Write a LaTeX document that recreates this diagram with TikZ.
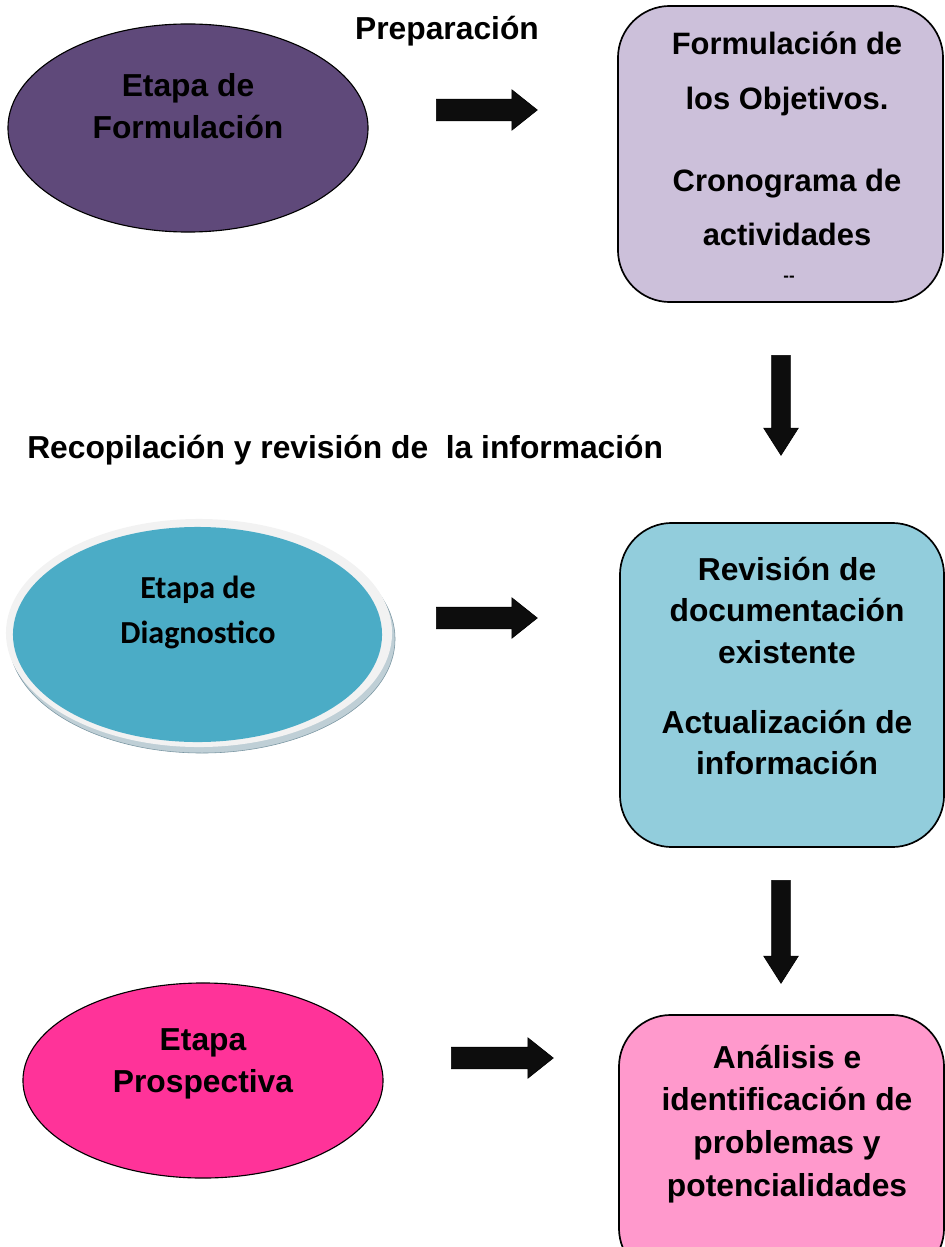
\documentclass[tikz,border=0pt]{standalone}
\usepackage{fontspec}
\setmainfont{Liberation Sans}
\newfontfamily\carlito{Carlito}
\usetikzlibrary{shapes.geometric,shapes.arrows}

\definecolor{formpurple}{HTML}{5F497A}
\definecolor{formlila}{HTML}{CCC0DA}
\definecolor{diagteal}{HTML}{4BACC6}
\definecolor{diagring}{HTML}{F2F2F2}
\definecolor{diagshadow}{HTML}{BFCFD6}
\definecolor{diagedge}{HTML}{7A96A2}
\definecolor{diagceleste}{HTML}{92CDDC}
\definecolor{prosfucsia}{HTML}{FF3399}
\definecolor{prosrosa}{HTML}{FF99CC}
\definecolor{flechanegra}{HTML}{0D0D0D}

\begin{document}
\begin{tikzpicture}[x=0.025cm,y=-0.025cm]
    \tikzstyle{etapa}=[ellipse, draw=black, line width=0.8pt, inner sep=0pt]
    \tikzstyle{caja}=[rectangle, rounded corners=1.3cm, draw=black, line width=1.2pt, inner sep=0pt]
    \tikzstyle{flecha}=[single arrow, anchor=tail, fill=flechanegra, draw=black, line width=0.4pt, inner xsep=0pt]
    \tikzstyle{flechah}=[flecha, inner ysep=0.2625cm, minimum width=1cm,
                         single arrow head extend=0.2375cm, single arrow tip angle=77]
    \tikzstyle{flechav}=[flecha, rotate=-90, inner ysep=0.225cm, minimum width=0.85cm,
                         single arrow head extend=0.2cm, single arrow tip angle=65]
    \tikzstyle{texto}=[align=center, inner sep=0pt, font=\bfseries\fontsize{22.6}{30}\selectfont]
    \useasboundingbox (0,0) rectangle (945,1247);
    \clip (0,0) rectangle (945,1247);

    % etapa de formulacion
    \node[etapa, fill=formpurple, minimum width=9cm, minimum height=5.2cm] (formulacion) at (188,128) {};
    \node[texto] (formtxt) at (188,106) {Etapa de\\Formulación};
    \node[texto] (preparacion) at (447,31) {Preparación};
    \node[flechah, minimum height=2.525cm] (flechaA) at (436,110) {};
    \node[caja, fill=formlila, minimum width=8.125cm, minimum height=7.4cm] (objetivos) at (780.5,154) {};
    \node[texto, font=\bfseries\fontsize{22}{39}\selectfont] (objtxt) at (787,139)
        {Formulación de\\los Objetivos.\\[0.675cm]Cronograma de\\actividades};
    \node[inner sep=0pt, font=\bfseries\fontsize{12}{13}\selectfont] (guiones) at (789,279) {-{}-};
    \node[flechav, minimum height=2.5cm] (flechaB) at (781,355) {};

    % etapa de diagnostico
    \node[texto, anchor=west] (recopilacion) at (27,450) {Recopilación y revisión de\ \ la información};
    \node[etapa, draw=diagedge, line width=0.4pt, fill=diagshadow, minimum width=9.65cm, minimum height=5.7cm] (diagsombra) at (202,639) {};
    \node[ellipse, fill=diagring, inner sep=0pt, minimum width=9.65cm, minimum height=5.7cm] (diaganillo) at (199,633) {};
    \node[ellipse, fill=diagteal, inner sep=0pt, minimum width=9.225cm, minimum height=5.375cm] (diagnostico) at (197.5,634.5) {};
    \node[texto, font=\carlito\bfseries\fontsize{22.8}{32}\selectfont] (diagtxt) at (198,612) {Etapa de\\Diagnostico};
    \node[flechah, minimum height=2.525cm] (flechaC) at (436,618) {};
    \node[caja, fill=diagceleste, minimum width=8.1cm, minimum height=8.1cm] (revision) at (782,685) {};
    \node[texto, font=\bfseries\fontsize{22.6}{29.5}\selectfont] (revtxt) at (787,666)
        {Revisión de\\documentación\\existente\\[0.71cm]Actualización de\\información};
    \node[flechav, minimum height=2.575cm] (flechaD) at (781,880) {};

    % etapa prospectiva
    \node[etapa, fill=prosfucsia, minimum width=9cm, minimum height=4.875cm] (prospectiva) at (203,1080.5) {};
    \node[texto] (prostxt) at (203,1064) {Etapa\\Prospectiva};
    \node[flechah, minimum height=2.55cm] (flechaE) at (451,1058) {};
    \node[caja, fill=prosrosa, minimum width=8.125cm, minimum height=6.625cm] (analisis) at (781.5,1147.5) {};
    \node[texto, font=\bfseries\fontsize{22.6}{30.5}\selectfont] (analtxt) at (787,1124)
        {Análisis e\\identificación de\\problemas y\\potencialidades};
\end{tikzpicture}
\end{document}
